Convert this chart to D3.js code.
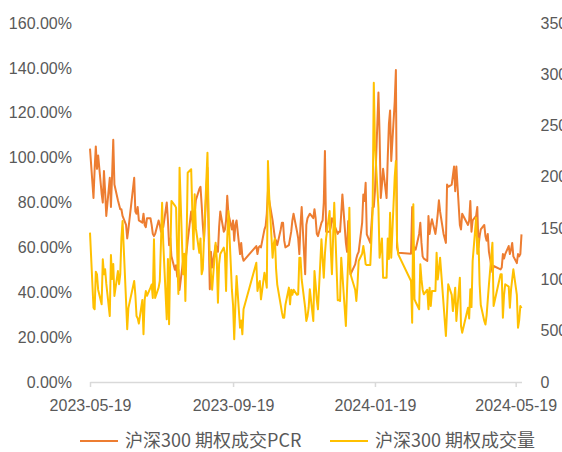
<!DOCTYPE html>
<html lang="zh">
<head>
  <meta charset="UTF-8">
  <title>沪深300期权成交PCR与成交量</title>
  <style>
    body { margin: 0; background: #fff; }
    #chart { display: block; }
    text { font-family: "Liberation Sans", Arial, sans-serif; fill: #595959; }
    .legend text { font-family: "Noto Sans CJK SC", sans-serif; }
  </style>
</head>
<body>
  <svg id="chart"></svg>

  <script src="https://d3js.org/d3.v7.min.js"></script>
  <script>
    // trading days, 2023-05-19 .. 2024-05-24
    const dates = [
      "2023-05-19","2023-05-22","2023-05-23","2023-05-24","2023-05-25","2023-05-26","2023-05-29","2023-05-30","2023-05-31",
      "2023-06-01","2023-06-02","2023-06-05","2023-06-06","2023-06-07","2023-06-08","2023-06-09","2023-06-12","2023-06-13","2023-06-14",
      "2023-06-15","2023-06-16","2023-06-19","2023-06-20","2023-06-21","2023-06-26","2023-06-27","2023-06-28","2023-06-29","2023-06-30",
      "2023-07-03","2023-07-04","2023-07-05","2023-07-06","2023-07-07","2023-07-10","2023-07-11","2023-07-12","2023-07-13","2023-07-14",
      "2023-07-17","2023-07-18","2023-07-19","2023-07-20","2023-07-21","2023-07-24","2023-07-25","2023-07-26","2023-07-27","2023-07-28","2023-07-31",
      "2023-08-01","2023-08-02","2023-08-03","2023-08-04","2023-08-07","2023-08-08","2023-08-09","2023-08-10","2023-08-11","2023-08-14",
      "2023-08-15","2023-08-16","2023-08-17","2023-08-18","2023-08-21","2023-08-22","2023-08-23","2023-08-24","2023-08-25","2023-08-28",
      "2023-08-29","2023-08-30","2023-08-31",
      "2023-09-01","2023-09-04","2023-09-05","2023-09-06","2023-09-07","2023-09-08","2023-09-11","2023-09-12","2023-09-13","2023-09-14",
      "2023-09-15","2023-09-18","2023-09-19","2023-09-20","2023-09-21","2023-09-22","2023-09-25","2023-09-26","2023-09-27","2023-09-28",
      "2023-10-09","2023-10-10","2023-10-11","2023-10-12","2023-10-13","2023-10-16","2023-10-17","2023-10-18","2023-10-19","2023-10-20",
      "2023-10-23","2023-10-24","2023-10-25","2023-10-26","2023-10-27","2023-10-30","2023-10-31",
      "2023-11-01","2023-11-02","2023-11-03","2023-11-06","2023-11-07","2023-11-08","2023-11-09","2023-11-10","2023-11-13","2023-11-14",
      "2023-11-15","2023-11-16","2023-11-17","2023-11-20","2023-11-21","2023-11-22","2023-11-23","2023-11-24","2023-11-27","2023-11-28",
      "2023-11-29","2023-11-30",
      "2023-12-01","2023-12-04","2023-12-05","2023-12-06","2023-12-07","2023-12-08","2023-12-11","2023-12-12","2023-12-13","2023-12-14",
      "2023-12-15","2023-12-18","2023-12-19","2023-12-20","2023-12-21","2023-12-22","2023-12-25","2023-12-26","2023-12-27","2023-12-28","2023-12-29",
      "2024-01-02","2024-01-03","2024-01-04","2024-01-05","2024-01-08","2024-01-09","2024-01-10","2024-01-11","2024-01-12","2024-01-15",
      "2024-01-16","2024-01-17","2024-01-18","2024-01-19","2024-01-22","2024-01-23","2024-01-24","2024-01-25","2024-01-26","2024-01-29",
      "2024-01-30","2024-01-31",
      "2024-02-01","2024-02-02","2024-02-05","2024-02-06","2024-02-07","2024-02-08","2024-02-19","2024-02-20","2024-02-21","2024-02-22",
      "2024-02-23","2024-02-26","2024-02-27","2024-02-28","2024-02-29",
      "2024-03-01","2024-03-04","2024-03-05","2024-03-06","2024-03-07","2024-03-08","2024-03-11","2024-03-12","2024-03-13","2024-03-14",
      "2024-03-15","2024-03-18","2024-03-19","2024-03-20","2024-03-21","2024-03-22","2024-03-25","2024-03-26","2024-03-27","2024-03-28","2024-03-29",
      "2024-04-01","2024-04-02","2024-04-03","2024-04-08","2024-04-09","2024-04-10","2024-04-11","2024-04-12","2024-04-15","2024-04-16",
      "2024-04-17","2024-04-18","2024-04-19","2024-04-22","2024-04-23","2024-04-24","2024-04-25","2024-04-26","2024-04-29","2024-04-30",
      "2024-05-06","2024-05-07","2024-05-08","2024-05-09","2024-05-10","2024-05-13","2024-05-14","2024-05-15","2024-05-16","2024-05-17",
      "2024-05-20","2024-05-21","2024-05-22","2024-05-23","2024-05-24"
    ];

    // 沪深300 期权成交PCR (%)
    const pcr = [
      104, 82, 95, 105, 95, 101, 84, 80, 94,
      85, 74, 91, 78, 92, 108, 88, 81, 79, 77, 77, 74, 70, 64, 68, 91, 76, 75, 78, 72,
      71, 75, 70, 69, 73, 73, 70, 66, 65, 66, 72, 70, 67, 71, 69, 80, 72, 61, 64, 56, 50,
      52, 47, 50, 41, 54, 57, 54, 58, 63, 76, 72, 69, 75, 81, 86, 87, 79, 70, 63, 95.5, 66, 41.3, 58,
      51, 61, 60, 58, 69, 76, 67, 68, 72, 83, 75, 68, 72, 63, 70, 72, 57, 62, 56, 54,
      60.6, 57, 60, 60.6, 60, 68, 69.5, 75, 85, 81, 72, 68, 64, 63, 61, 68, 71,
      71, 63, 60, 61, 64, 67, 72, 75, 67, 64, 57, 70, 78, 48, 70, 73, 74, 75, 73, 77, 73, 66,
      65, 71, 72, 80, 103, 67, 67, 69, 73, 72, 70, 66, 67, 67, 75, 83.6, 62, 58, 71.7, 55, 48,
      52.4, 55, 56.9, 58, 71, 83.6, 80.7, 88.8, 65.8, 62, 70, 77.7, 78, 85, 129, 110, 82, 88, 95, 82, 100, 115,
      121, 98.5, 125, 139, 60, 57.6, 57.2, 78, 58, 60, 59, 66, 71, 62, 56,
      55, 54, 74, 66, 70, 72.5, 66, 70, 75, 81, 76, 66, 64, 62, 88, 87, 88, 92, 96, 85, 96,
      70, 68, 75, 70, 72, 80.7, 67, 72, 74, 78, 60, 65, 68, 70, 65, 63, 66, 58, 49, 51.7,
      50.2, 51, 57, 55, 57, 60.6, 57, 59, 62, 56, 53, 57, 56, 57, 65.8
    ];

    // 沪深300 期权成交量
    const volume = [
      145600, 72400, 70900, 107600, 105000, 90000, 75700, 119600, 105000,
      109900, 95900, 64300, 123800, 100400, 115000, 83900, 108200, 95300, 105000, 140000, 157000, 79000, 51400, 72000, 98500, 85000, 64300, 62000, 56900,
      80000, 46500, 80000, 88700, 84000, 92000, 95000, 82000, 139100, 82000, 92000, 98500, 135000, 174800, 135000, 61100, 120000, 56200, 120000, 176500, 172000,
      170000, 124800, 85800, 209000, 105000, 125000, 79000, 135000, 204000, 207400, 165000, 129400, 183000, 150000, 126000, 140000, 105000, 110000, 140000, 223600, 160000, 120000, 105000,
      90000, 135800, 120000, 77300, 115000, 124800, 131000, 125000, 88700, 140000, 166700, 90000, 75000, 41600, 75000, 103400, 53000, 60000, 46500, 70900,
      116300, 88700, 95000, 98500, 80600, 106600, 100000, 92000, 215500, 183000, 121200, 135000, 140000, 110000, 95000, 75000, 68000,
      62700, 62700, 75000, 92000, 75700, 90000, 85000, 90000, 85000, 85500, 121200, 121200, 100000, 72400, 59500, 64000, 72400, 90400, 59500, 108200, 95000, 80000,
      70900, 139100, 120000, 101700, 125000, 140000, 166700, 130000, 105000, 140000, 174800, 79700, 80000, 79000, 121200, 105000, 54600, 90000, 120000, 170000, 105000,
      90000, 79000, 95000, 118000, 125000, 132600, 125000, 114800, 114000, 114000, 140000, 166700, 291800, 230000, 170000, 121200, 130000, 140000, 101700, 101700, 140000, 120000,
      165000, 121200, 200000, 215500, 137500, 124500, 98500, 57800, 173300, 80600, 78000, 70900, 114800, 100000, 90000,
      85500, 90000, 70900, 92000, 74100, 88700, 88700, 126000, 100000, 110000, 121200, 75700, 60000, 44800, 70000, 95300, 85000, 69200, 80000, 92000, 59500,
      101700, 54600, 48100, 72400, 62000, 90400, 73000, 118000, 160200, 125000, 140000, 95000, 75000, 59500, 56000, 65000, 80000, 95000, 135800, 74100,
      105000, 105000, 62700, 85000, 95300, 93000, 72400, 90000, 100000, 109900, 85000, 52900, 60000, 74100, 72000
    ];

    const xTicks = ["2023-05-19", "2023-09-19", "2024-01-19", "2024-05-19"];
    const pcrTicks = [0, 20, 40, 60, 80, 100, 120, 140, 160];
    const volumeTicks = [0, 50000, 100000, 150000, 200000, 250000, 300000, 350000];
    const seriesNames = ["沪深300 期权成交PCR", "沪深300 期权成交量"];

    const width = 562;
    const height = 452;
    const plot = { left: 90, right: 521.5, top: 23, bottom: 382 };
    const colors = ["#ED7D31", "#FFC000"];

    const parse = d3.utcParse("%Y-%m-%d");
    const rows = dates.map((d, i) => ({ date: parse(d), pcr: pcr[i], vol: volume[i] }));

    const svg = d3.select("#chart")
      .attr("width", width)
      .attr("height", height);

    const x = d3.scaleUtc()
      .domain(d3.extent(rows, d => d.date))
      .range([plot.left, plot.right]);

    const yLeft = d3.scaleLinear()
      .domain([0, 160])
      .range([plot.bottom, plot.top]);

    const yRight = d3.scaleLinear()
      .domain([0, 350000])
      .range([plot.bottom, plot.top]);

    // left axis (labels only)
    const leftAxis = svg.append("g")
      .attr("transform", `translate(${plot.left},0)`)
      .call(d3.axisLeft(yLeft).tickValues(pcrTicks).tickSize(0).tickPadding(18)
        .tickFormat(d => d.toFixed(2) + "%"));
    leftAxis.select(".domain").remove();

    // right axis (labels only); the window edge cuts them, as in the original
    const rightAxis = svg.append("g")
      .attr("transform", `translate(${plot.right},0)`)
      .call(d3.axisRight(yRight).tickValues(volumeTicks).tickSize(0).tickPadding(19)
        .tickFormat(d3.format("d")));
    rightAxis.select(".domain").remove();

    // bottom axis
    const bottomAxis = svg.append("g")
      .attr("transform", `translate(0,${plot.bottom})`)
      .call(d3.axisBottom(x).tickValues(xTicks.map(parse)).tickSize(5).tickSizeOuter(0)
        .tickPadding(13).tickFormat(d3.utcFormat("%Y-%m-%d")));
    bottomAxis.select(".domain").attr("stroke", "#d9d9d9").attr("stroke-width", 1.5);
    bottomAxis.selectAll(".tick line").attr("stroke", "#d9d9d9").attr("stroke-width", 1.5);

    svg.selectAll(".tick text")
      .attr("fill", "#595959")
      .style("font-size", "16px");

    const pcrLine = d3.line()
      .x(d => x(d.date))
      .y(d => yLeft(d.pcr));

    const volLine = d3.line()
      .x(d => x(d.date))
      .y(d => yRight(d.vol));

    svg.append("path")
      .datum(rows)
      .attr("fill", "none")
      .attr("stroke", colors[0])
      .attr("stroke-width", 2)
      .attr("stroke-linejoin", "round")
      .attr("d", pcrLine);

    svg.append("path")
      .datum(rows)
      .attr("fill", "none")
      .attr("stroke", colors[1])
      .attr("stroke-width", 2)
      .attr("stroke-linejoin", "round")
      .attr("d", volLine);

    // legend
    const legendY = 441;
    const legend = svg.append("g").attr("class", "legend");
    const legendX = [80, 330];
    seriesNames.forEach((name, i) => {
      const g = legend.append("g").attr("transform", `translate(${legendX[i]},${legendY})`);
      g.append("line")
        .attr("x1", 0).attr("x2", 38)
        .attr("stroke", colors[i])
        .attr("stroke-width", 2);
      g.append("text")
        .attr("x", 45)
        .attr("dy", "0.35em")
        .style("font-size", "18px")
        .text(name);
    });
  </script>
</body>
</html>
